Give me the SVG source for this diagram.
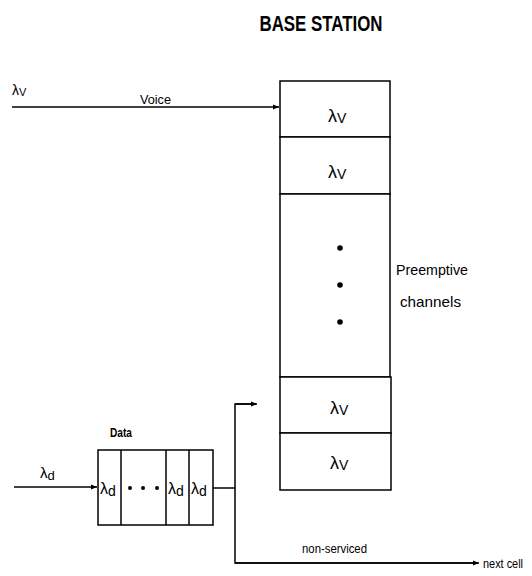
<svg xmlns="http://www.w3.org/2000/svg" width="532" height="576" viewBox="0 0 532 576">
<defs>
<marker id="arr" viewBox="0 0 10 10" refX="10" refY="5" markerWidth="6" markerHeight="6" orient="auto" markerUnits="userSpaceOnUse">
<path d="M0,1 L10,5 L0,9 Z" fill="#000"/>
</marker>
</defs>
<style>
text{font-family:"Liberation Sans",Arial,sans-serif;fill:#000}
.box{fill:#fff;stroke:#000;stroke-width:1.5}
.ln{fill:none;stroke:#000;stroke-width:1.5}
.lam{font-size:18px}
.sub{font-size:14px}
.lbl{font-size:13px}
</style>
<rect width="532" height="576" fill="#fff"/>
<text x="321" y="31" font-size="22" font-weight="bold" text-anchor="middle" textLength="123" lengthAdjust="spacingAndGlyphs">BASE STATION</text>

<g id="connectors">
<line class="ln" x1="12" y1="107" x2="279" y2="107" marker-end="url(#arr)"/>
<line class="ln" x1="14" y1="487" x2="97" y2="487" marker-end="url(#arr)"/>
<polyline class="ln" points="213,488 235,488"/>
<polyline class="ln" points="256,404 235,404 235,563 478,563"/>
<line class="ln" x1="235" y1="404" x2="257" y2="404" marker-end="url(#arr)"/>
<line class="ln" x1="235" y1="563" x2="479" y2="563" marker-end="url(#arr)"/>
</g>

<g id="labels">
<text x="12" y="95" font-size="14">λ<tspan font-size="11" dy="1">V</tspan></text>
<text x="140" y="104" class="lbl" textLength="31" lengthAdjust="spacingAndGlyphs">Voice</text>
<text x="40" y="478" font-size="15">λ<tspan font-size="13" dy="2">d</tspan></text>
<text x="110" y="437" font-size="12" font-weight="bold" textLength="22" lengthAdjust="spacingAndGlyphs">Data</text>
<text x="302" y="553" class="lbl" textLength="65" lengthAdjust="spacingAndGlyphs">non-serviced</text>
<text x="483" y="568" font-size="12" textLength="40" lengthAdjust="spacingAndGlyphs">next cell</text>
<text x="396" y="275" font-size="15" textLength="72" lengthAdjust="spacingAndGlyphs">Preemptive</text>
<text x="400" y="307" font-size="15" textLength="61" lengthAdjust="spacingAndGlyphs">channels</text>
</g>

<g id="base-station">
<rect class="box" x="280" y="81" width="110" height="56"/>
<rect class="box" x="280" y="137" width="110" height="57"/>
<rect class="box" x="280" y="194" width="110" height="183"/>
<rect class="box" x="280" y="377" width="111" height="56"/>
<rect class="box" x="280" y="433" width="111" height="57"/>
<text x="328" y="122" class="lam">λ<tspan class="sub" dy="1">V</tspan></text>
<text x="328" y="178" class="lam">λ<tspan class="sub" dy="1">V</tspan></text>
<circle cx="340" cy="248" r="2.8"/>
<circle cx="340" cy="285" r="2.8"/>
<circle cx="340" cy="322" r="2.8"/>
<text x="330" y="414" class="lam">λ<tspan class="sub" dy="1">V</tspan></text>
<text x="330" y="469" class="lam">λ<tspan class="sub" dy="1">V</tspan></text>
</g>

<g id="data-queue">
<rect class="box" x="98" y="450" width="115" height="75"/>
<line class="ln" x1="121" y1="450" x2="121" y2="525"/>
<line class="ln" x1="166" y1="450" x2="166" y2="525"/>
<line class="ln" x1="189" y1="450" x2="189" y2="525"/>
<text x="100" y="494" font-size="16">λ<tspan font-size="14" dy="2">d</tspan></text>
<circle cx="130" cy="488" r="2"/>
<circle cx="143" cy="488" r="2"/>
<circle cx="157" cy="488" r="2"/>
<text x="168" y="494" font-size="16">λ<tspan font-size="14" dy="2">d</tspan></text>
<text x="191" y="494" font-size="16">λ<tspan font-size="14" dy="2">d</tspan></text>
</g>
</svg>
